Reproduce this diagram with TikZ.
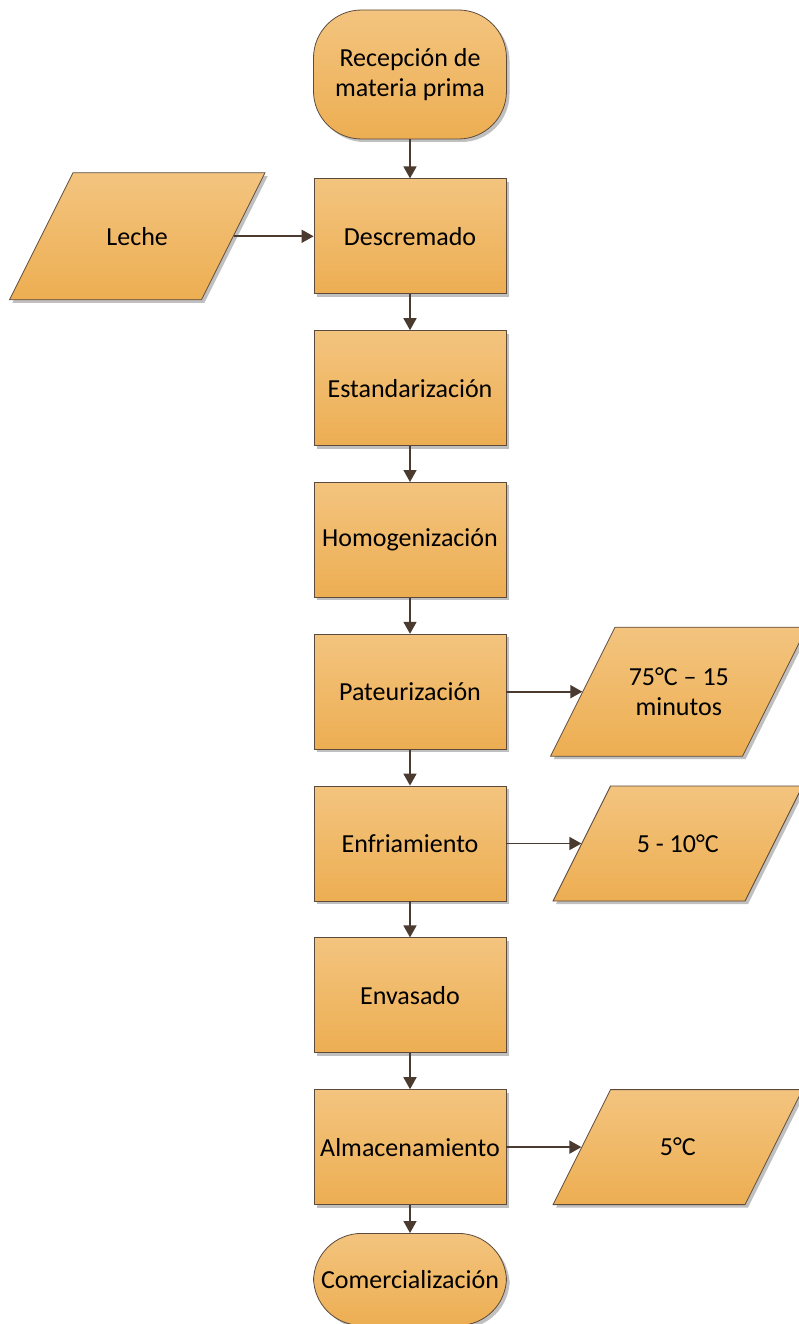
\documentclass[tikz,border=0pt]{standalone}
\usepackage{fontspec}
\setmainfont{Carlito}
\usetikzlibrary{arrows.meta,positioning,shadows}
\definecolor{boxtop}{HTML}{F3C47F}
\definecolor{boxbot}{HTML}{EDAE52}
\definecolor{boxline}{HTML}{5C4A3D}
\definecolor{linkcol}{HTML}{4B3A2F}

\begin{document}
\begin{tikzpicture}[x=1pt,y=1pt,node distance=36pt,
  base/.style={draw=boxline,line width=0.8pt,top color=boxtop,bottom color=boxbot,
    drop shadow={shadow xshift=3pt,shadow yshift=-3pt,fill=black!45,opacity=0.55}},
  label text/.style={font=\fontsize{26}{30}\selectfont,align=center,text=black},
  box/.style={base,label text,minimum width=192pt,minimum height=115pt},
  term/.style={base,label text,rounded corners=48pt,minimum width=193pt},
  data/.style={base,xslant=0.5,minimum width=192pt,minimum height=115pt},
  link/.style={->,draw=linkcol,line width=1.6pt},
  >={Triangle[length=12pt,width=13pt]}]
\useasboundingbox (0,0) rectangle (798,-1324);
% main line
\node[term,minimum height=129pt] (rec) at (410,-74.5) {Recepción de\\materia prima};
\node[box,below=39pt of rec] (des) {Descremado};
\node[box,below=of des] (est) {Estandarización};
\node[box,below=of est] (hom) {Homogenización};
\node[box,below=of hom] (pat) {Pateurización};
\node[box,below=of pat] (enf) {Enfriamiento};
\node[box,below=of enf] (env) {Envasado};
\node[box,below=of env] (alm) {Almacenamiento};
\node[term,minimum height=92pt,below=28pt of alm] (com) {Comercialización};
% side data (slanted boxes, text on top)
\node[data,minimum height=127pt,left=80pt of des] (lec) {};
\node[label text] (lect) at (lec) {Leche};
\node[data,minimum height=129pt,right=76pt of pat] (t75) {};
\node[label text] (t75t) at (t75) {75°C – 15\\minutos};
\node[data,right=75pt of enf] (t510) {};
\node[label text] (t510t) at (t510) {5 - 10°C};
\node[data,right=75pt of alm] (t5) {};
\node[label text] (t5t) at (t5) {5°C};
\draw[link] (rec)--(des);\draw[link] (des)--(est);\draw[link] (est)--(hom);\draw[link] (hom)--(pat);
\draw[link] (pat)--(enf);\draw[link] (enf)--(env);\draw[link] (env)--(alm);\draw[link] (alm)--(com);
\draw[link] (lec)--(des);\draw[link] (pat)--(t75);\draw[link] (enf)--(t510);\draw[link] (alm)--(t5);
\end{tikzpicture}
\end{document}
